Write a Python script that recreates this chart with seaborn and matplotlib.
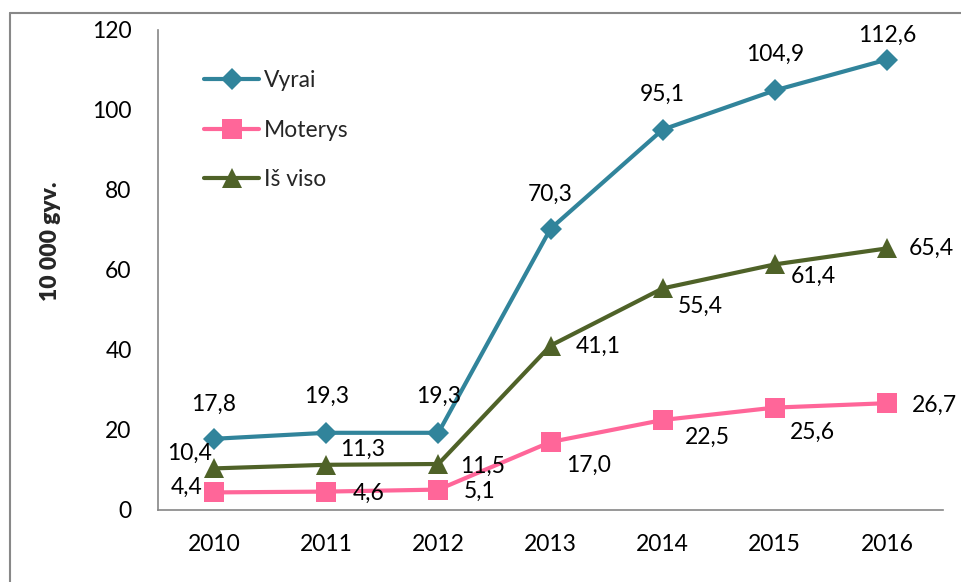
import matplotlib
matplotlib.use("Agg")
import matplotlib.pyplot as plt
from matplotlib.lines import Line2D
import seaborn as sns
import pandas as pd

years = [2010, 2011, 2012, 2013, 2014, 2015, 2016]
vyrai = [17.8, 19.3, 19.3, 70.3, 95.1, 104.9, 112.6]
moterys = [4.4, 4.6, 5.1, 17.0, 22.5, 25.6, 26.7]
is_viso = [10.4, 11.3, 11.5, 41.1, 55.4, 61.4, 65.4]
series_names = ["Vyrai", "Moterys", "Iš viso"]
y_label = "10 000 gyv."

sns.set_style("white")
plt.rcParams['font.family'] = ['Lato', 'DejaVu Sans']

FS = 16.5
styles = {
    "Vyrai": dict(color="#31849B", marker="D", markersize=11),
    "Moterys": dict(color="#FF6699", marker="s", markersize=14),
    "Iš viso": dict(color="#4F6228", marker="^", markersize=14),
}
# label offsets in pixels (dx, dy)
offsets = {
    "Vyrai": [(0, 34), (0, 36), (0, 36), (0, 34), (0, 35), (0, 36), (0, 24)],
    "Moterys": [(-27, 5), (42, -2), (41, -2), (38, -23), (45, -17), (38, -25), (48, -2)],
    "Iš viso": [(-25, 15), (36, 15), (44, -2), (48, -1), (38, -18), (39, -12), (44, 0)],
}

df = pd.DataFrame({"year": years, "Vyrai": vyrai, "Moterys": moterys, "Iš viso": is_viso})

fig = plt.figure(figsize=(9.62, 5.82), dpi=100)
ax = fig.add_axes([158 / 962, 1 - 510 / 582, 785 / 962, 480 / 582])

for name in series_names:
    st = styles[name]
    sns.lineplot(data=df, x="year", y=name, ax=ax, label=name, color=st["color"],
                 marker=st["marker"], markersize=st["markersize"], markeredgewidth=0,
                 linewidth=3, legend=False)
    for yr, v, (dx, dy) in zip(df["year"], df[name], offsets[name]):
        ax.annotate(f"{v:.1f}".replace(".", ","), (yr, v), xytext=(dx, dy),
                    textcoords="offset pixels", ha="center", va="center",
                    fontsize=FS, color="black", annotation_clip=False)

ax.set_xlim(2009.5, 2016.5)
ax.set_ylim(0, 120)
ax.set_xticks(years)
ax.set_yticks(range(0, 121, 20))
ax.tick_params(axis="both", length=0, labelsize=FS, colors="black")
ax.tick_params(axis="y", pad=19)
ax.tick_params(axis="x", pad=17)
ax.set_xlabel("")
ax.set_ylabel(y_label, fontsize=FS, fontweight="heavy")
ax.yaxis.set_label_coords(-0.123, 0.56)

for side in ["top", "right"]:
    ax.spines[side].set_visible(False)
for side in ["left", "bottom"]:
    ax.spines[side].set_color("#868686")
    ax.spines[side].set_linewidth(1.2)

ax.legend(loc="upper left", bbox_to_anchor=((204 - 158) / 785, (510 - 70) / 480),
          frameon=False, fontsize=FS, handlelength=2.4, handletextpad=0.2,
          labelspacing=1.25, borderpad=0, borderaxespad=0)

# outer frame (clipped at right and bottom)
fig.add_artist(Line2D([10 / 962, 1], [1 - 13 / 582] * 2, transform=fig.transFigure,
                      color="#888888", linewidth=1.5))
fig.add_artist(Line2D([10 / 962] * 2, [0, 1 - 13 / 582], transform=fig.transFigure,
                      color="#888888", linewidth=1.5))

fig.savefig("out.png", dpi=100)
